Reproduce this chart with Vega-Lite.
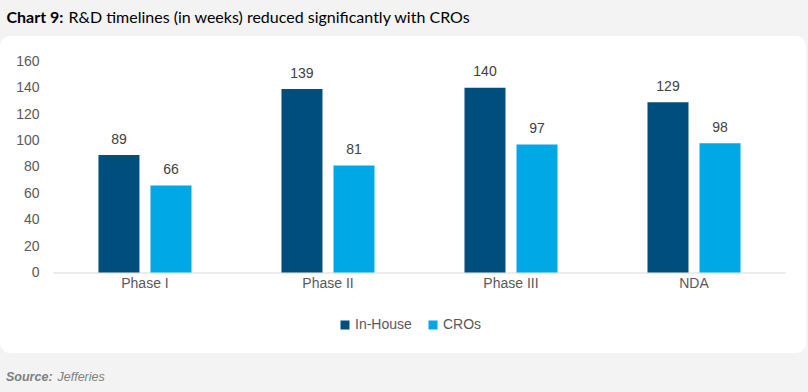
{
  "$schema": "https://vega.github.io/schema/vega-lite/v6.json",
  "width": 806,
  "height": 317,
  "autosize": {"type": "none"},
  "padding": {"left": 0, "top": 36, "right": 2, "bottom": 39},
  "background": "#f3f3f3",
  "config": {
    "view": {"fill": "#ffffff", "stroke": null, "cornerRadius": 10},
    "font": "Liberation Sans",
    "style": {
      "group-title": {"dx": 6},
      "group-subtitle": {"dx": 57.5}
    },
    "axisY": {
      "domain": false,
      "ticks": false,
      "tickSize": 0,
      "grid": false,
      "labelPadding": -39,
      "labelAlign": "right",
      "labelFont": "Liberation Sans",
      "labelFontSize": 14,
      "labelColor": "#595959",
      "titleAngle": 0,
      "titleX": 6,
      "titleY": -13.3,
      "titleAlign": "left",
      "titleBaseline": "alphabetic",
      "titleFont": "Lato",
      "titleFontSize": 16,
      "titleFontWeight": "bold",
      "titleColor": "#000000"
    },
    "legend": {
      "orient": "none",
      "legendX": 338,
      "legendY": 282,
      "direction": "horizontal",
      "symbolType": "square",
      "symbolSize": 81,
      "symbolStrokeWidth": 0,
      "labelFont": "Liberation Sans",
      "labelFontSize": 14,
      "labelColor": "#595959",
      "labelOffset": 3,
      "columnPadding": 14
    }
  },
  "title": {
    "text": "Source:",
    "subtitle": "Jefferies",
    "orient": "bottom",
    "anchor": "start",
    "frame": "group",
    "offset": 18,
    "font": "Liberation Sans",
    "fontSize": 12.5,
    "fontStyle": "italic",
    "fontWeight": "bold",
    "color": "#7f7f7f",
    "subtitleFont": "Liberation Sans",
    "subtitleFontSize": 12.5,
    "subtitleFontStyle": "italic",
    "subtitleFontWeight": "normal",
    "subtitleColor": "#7f7f7f",
    "subtitlePadding": -12.5
  },
  "data": {
    "values": [
      {"phase": "Phase I", "series": "In-House", "weeks": 89},
      {"phase": "Phase I", "series": "CROs", "weeks": 66},
      {"phase": "Phase II", "series": "In-House", "weeks": 139},
      {"phase": "Phase II", "series": "CROs", "weeks": 81},
      {"phase": "Phase III", "series": "In-House", "weeks": 140},
      {"phase": "Phase III", "series": "CROs", "weeks": 97},
      {"phase": "NDA", "series": "In-House", "weeks": 129},
      {"phase": "NDA", "series": "CROs", "weeks": 98}
    ]
  },
  "encoding": {
    "x": {
      "field": "phase",
      "type": "nominal",
      "sort": ["Phase I", "Phase II", "Phase III", "NDA"],
      "scale": {"paddingInner": 0, "paddingOuter": 0.202, "align": 0.723},
      "axis": {
        "orient": "bottom",
        "offset": -77,
        "domain": false,
        "ticks": false,
        "tickSize": 0,
        "labelPadding": 0,
        "labelAngle": 0,
        "labelFont": "Liberation Sans",
        "labelFontSize": 14,
        "labelColor": "#595959",
        "title": "R&D timelines (in weeks) reduced significantly with CROs",
        "titleX": 68,
        "titleY": -253.3,
        "titleAngle": 0,
        "titleAlign": "left",
        "titleBaseline": "alphabetic",
        "titleFont": "Lato",
        "titleFontSize": 16,
        "titleFontWeight": "normal",
        "titleColor": "#000000"
      }
    },
    "y": {
      "field": "weeks",
      "type": "quantitative",
      "scale": {"domain": [-60.98, 179.17], "nice": false, "zero": false},
      "axis": {"values": [0, 20, 40, 60, 80, 100, 120, 140, 160], "title": "Chart 9:"}
    }
  },
  "layer": [
    {
      "transform": [{"filter": "datum.series === 'In-House'"}],
      "mark": {"type": "bar", "color": "#d9d9d9"},
      "encoding": {
        "y": {
          "datum": 0,
          "type": "quantitative",
          "axis": {"values": [0, 20, 40, 60, 80, 100, 120, 140, 160], "title": "Chart 9:"}
        },
        "y2": {"datum": -0.8}
      }
    },
    {
      "mark": {"type": "bar"},
      "encoding": {
        "xOffset": {
          "field": "series",
          "sort": ["In-House", "CROs"],
          "scale": {"paddingInner": 0.212, "paddingOuter": 0.865}
        },
        "color": {
          "field": "series",
          "type": "nominal",
          "sort": ["In-House", "CROs"],
          "scale": {"domain": ["In-House", "CROs"], "range": ["#004E7D", "#00A8E6"]},
          "legend": {"title": null}
        }
      }
    },
    {
      "mark": {
        "type": "text",
        "baseline": "alphabetic",
        "dy": -11.5,
        "font": "Liberation Sans",
        "fontSize": 14,
        "fill": "#404040"
      },
      "encoding": {
        "xOffset": {
          "field": "series",
          "sort": ["In-House", "CROs"],
          "scale": {"paddingInner": 0.212, "paddingOuter": 0.865}
        },
        "text": {"field": "weeks", "type": "quantitative"}
      }
    }
  ]
}
